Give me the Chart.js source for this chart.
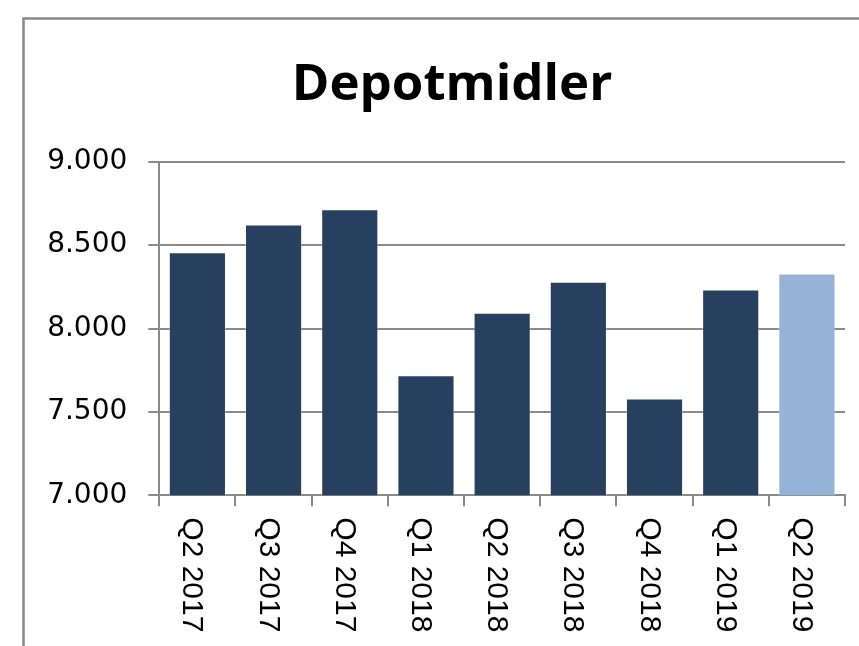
<!DOCTYPE html>
<html>
<head>
<meta charset="utf-8">
<script src="https://cdn.jsdelivr.net/npm/chart.js@4/dist/chart.umd.min.js"></script>
<style>
  html, body { margin: 0; padding: 0; background: #ffffff; }
  canvas { display: block; }
</style>
</head>
<body>
<canvas id="c" width="859" height="646"></canvas>
<script>
// ---- data ----
const chartTitle = 'Depotmidler';
const categories = ['Q2 2017', 'Q3 2017', 'Q4 2017', 'Q1 2018', 'Q2 2018', 'Q3 2018', 'Q4 2018', 'Q1 2019', 'Q2 2019'];
const depotValues = [8457, 8623, 8715, 7719, 8094, 8280, 7581, 8234, 8329];
const barColors = ['#27405F', '#27405F', '#27405F', '#27405F', '#27405F', '#27405F', '#27405F', '#27405F', '#95B3D7'];
const yTickValues = [7000, 7500, 8000, 8500, 9000];
const yTickLabels = ['7.000', '7.500', '8.000', '8.500', '9.000'];

const GRID = '#8a8a8a';

const frame = {
  id: 'frame',
  beforeDraw(chart) {
    const ctx = chart.ctx;
    ctx.save();
    ctx.fillStyle = '#ffffff';
    ctx.fillRect(0, 0, chart.width, chart.height);
    ctx.strokeStyle = '#878787';
    ctx.lineWidth = 2.5;
    ctx.strokeRect(23.5, 18.5, 900, 700);
    ctx.fillStyle = '#000000';
    ctx.font = 'bold 51px "Open Sans", sans-serif';
    ctx.textAlign = 'center';
    ctx.textBaseline = 'alphabetic';
    ctx.fillText(chartTitle, 452, 100);
    ctx.restore();
  }
};

const rotatedLabels = {
  id: 'rotatedLabels',
  afterDraw(chart) {
    const ctx = chart.ctx;
    const xs = chart.scales.x;
    ctx.save();
    ctx.fillStyle = '#000000';
    ctx.font = '30px "Liberation Sans", Arial, sans-serif';
    ctx.textAlign = 'left';
    ctx.textBaseline = 'alphabetic';
    categories.forEach((lab, i) => {
      const x = xs.getPixelForValue(i);
      ctx.save();
      ctx.translate(x - 14, chart.chartArea.bottom + 22);
      ctx.rotate(Math.PI / 2);
      ctx.fillText(lab, 0, 0);
      ctx.restore();
    });
    ctx.restore();
  }
};

new Chart(document.getElementById('c'), {
  type: 'bar',
  data: {
    labels: categories,
    datasets: [{
      data: depotValues,
      backgroundColor: barColors,
      borderColor: 'rgba(255,255,255,0.35)',
      borderWidth: 1,
      barPercentage: 0.75,
      categoryPercentage: 1.0
    }]
  },
  options: {
    responsive: false,
    animation: false,
    devicePixelRatio: 1,
    layout: { padding: { left: 30, right: 14, top: 161.7, bottom: 0 } },
    plugins: {
      legend: { display: false },
      tooltip: { enabled: false },
      title: { display: false }
    },
    scales: {
      x: {
        offset: true,
        grid: { offset: true, drawOnChartArea: false, drawTicks: true, tickLength: 11, color: GRID, lineWidth: 2 },
        border: { display: true, color: GRID, width: 2 },
        ticks: { display: false },
        afterFit(scale) { scale.height = 150.7; }
      },
      y: {
        min: 7000,
        max: 9000,
        afterBuildTicks(scale) { scale.ticks = yTickValues.map(v => ({ value: v })); },
        grid: { color: GRID, lineWidth: 2, drawTicks: true, tickLength: 11 },
        border: { display: true, color: GRID, width: 2 },
        ticks: {
          padding: 21,
          color: '#000000',
          font: { family: '"DejaVu Sans", sans-serif', size: 28 },
          callback(value) { const i = yTickValues.indexOf(value); return i >= 0 ? yTickLabels[i] : ''; }
        },
        afterFit(scale) { scale.width = 129.3; }
      }
    }
  },
  plugins: [frame, rotatedLabels]
});
</script>
</body>
</html>
